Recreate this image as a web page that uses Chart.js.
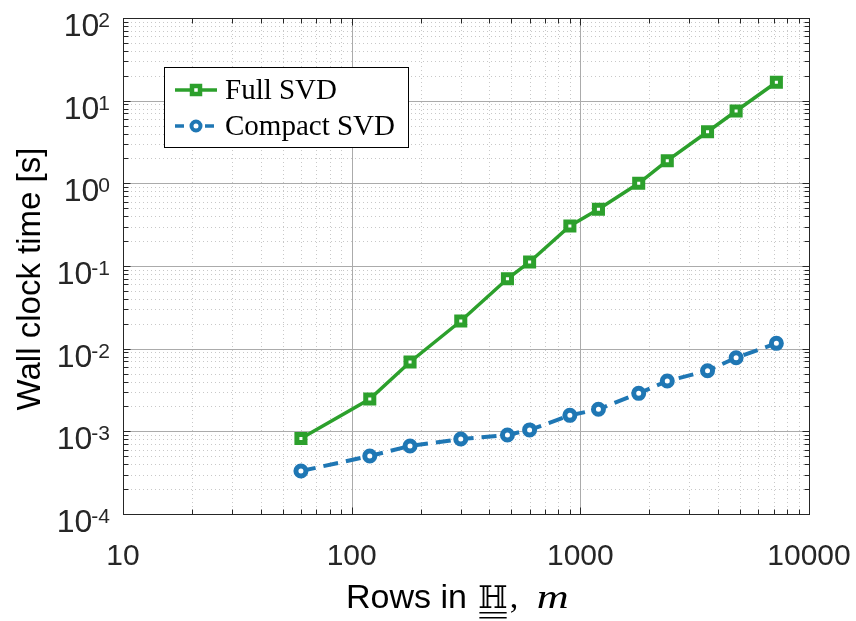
<!DOCTYPE html>
<html>
<head>
<meta charset="utf-8">
<script src="https://cdn.jsdelivr.net/npm/chart.js@4/dist/chart.umd.min.js"></script>
<style>
  html, body { margin: 0; padding: 0; background: #fff; }
  #wrap { width: 856px; height: 621px; position: relative; }
</style>
</head>
<body>
<div id="wrap"><canvas id="chart"></canvas></div>
<script>
// values
const rows = [60, 120, 180, 300, 480, 600, 900, 1200, 1800, 2400, 3600, 4800, 7200];
const fullSvd = [8.2e-4, 2.46e-3, 6.9e-3, 0.0216, 0.070, 0.112, 0.305, 0.485, 1.0, 1.88, 4.21, 7.5, 16.7];
const compactSvd = [3.31e-4, 5.03e-4, 6.65e-4, 8.07e-4, 9.03e-4, 1.04e-3, 1.56e-3, 1.85e-3, 2.88e-3, 4.06e-3, 5.41e-3, 7.78e-3, 1.16e-2];
const xDecades = [10, 100, 1000, 10000];
const yExponents = [-4, -3, -2, -1, 0, 1, 2];

const GREEN = 'rgb(44,160,44)';
const BLUE = 'rgb(31,119,180)';
const SANS = '"Liberation Sans", Arial, sans-serif';
const SERIF = '"Liberation Serif", "Times New Roman", serif';

// 2..9 x 10^k between two powers of ten
function minorValues(lo, hi) {
  const out = [];
  for (let d = lo; d < hi; d *= 10) {
    for (let k = 2; k <= 9; k++) out.push(k * d);
  }
  return out;
}

function drawMarker(ctx, style, x, y, color) {
  ctx.save();
  ctx.setLineDash([]);
  ctx.fillStyle = '#fff';
  ctx.strokeStyle = color;
  ctx.beginPath();
  if (style === 'rect') {
    ctx.lineWidth = 4.5;
    ctx.rect(x - 4, y - 4, 8, 8);
  } else {
    ctx.lineWidth = 4;
    ctx.arc(x, y, 4.5, 0, Math.PI * 2);
  }
  ctx.fill();
  ctx.stroke();
  ctx.restore();
}

const matlabLook = {
  id: 'matlabLook',
  beforeDatasetsDraw(chart) {
    const { ctx, chartArea: a, scales: { x, y } } = chart;
    ctx.save();
    ctx.lineWidth = 1;
    // minor dotted grid
    ctx.strokeStyle = '#c8c8c8';
    ctx.setLineDash([1, 3]);
    minorValues(10, 10000).forEach(v => {
      const px = Math.round(x.getPixelForValue(v)) + 0.5;
      ctx.beginPath(); ctx.moveTo(px, a.top); ctx.lineTo(px, a.bottom); ctx.stroke();
    });
    minorValues(1e-4, 100).forEach(v => {
      const py = Math.round(y.getPixelForValue(v)) + 0.5;
      ctx.beginPath(); ctx.moveTo(a.left, py); ctx.lineTo(a.right, py); ctx.stroke();
    });
    // major solid grid
    ctx.setLineDash([]);
    ctx.strokeStyle = '#ababab';
    xDecades.forEach(v => {
      const px = Math.round(x.getPixelForValue(v)) + 0.5;
      ctx.beginPath(); ctx.moveTo(px, a.top); ctx.lineTo(px, a.bottom); ctx.stroke();
    });
    yExponents.forEach(e => {
      const py = Math.round(y.getPixelForValue(Math.pow(10, e))) + 0.5;
      ctx.beginPath(); ctx.moveTo(a.left, py); ctx.lineTo(a.right, py); ctx.stroke();
    });
    ctx.restore();
  },
  afterDraw(chart) {
    const { ctx, chartArea: a, scales: { x, y } } = chart;
    ctx.save();
    const L = Math.round(a.left) + 0.5, R = Math.round(a.right) + 0.5;
    const T = Math.round(a.top) + 0.5, B = Math.round(a.bottom) + 0.5;

    // inward ticks on all four sides
    ctx.strokeStyle = '#262626';
    ctx.lineWidth = 1;
    const xt = xDecades.concat(minorValues(10, 10000));
    xt.forEach(v => {
      const px = Math.round(x.getPixelForValue(v)) + 0.5;
      const len = xDecades.includes(v) ? 7 : 5;
      ctx.beginPath();
      ctx.moveTo(px, B); ctx.lineTo(px, B - len);
      ctx.moveTo(px, T); ctx.lineTo(px, T + len);
      ctx.stroke();
    });
    const yt = yExponents.map(e => Math.pow(10, e)).concat(minorValues(1e-4, 100));
    yt.forEach((v, i) => {
      const py = Math.round(y.getPixelForValue(v)) + 0.5;
      const len = i < yExponents.length ? 7 : 5;
      ctx.beginPath();
      ctx.moveTo(L, py); ctx.lineTo(L + len, py);
      ctx.moveTo(R, py); ctx.lineTo(R - len, py);
      ctx.stroke();
    });
    ctx.strokeRect(L, T, R - L, B - T);

    // tick labels
    ctx.fillStyle = '#262626';
    ctx.textBaseline = 'alphabetic';
    ctx.font = '30px ' + SANS;
    ctx.textAlign = 'center';
    xDecades.forEach(v => {
      ctx.fillText(String(v), x.getPixelForValue(v), 565);
    });
    ctx.textAlign = 'left';
    yExponents.forEach(e => {
      const py = y.getPixelForValue(Math.pow(10, e));
      const sup = e < 0 ? '-' + Math.abs(e) : String(e);
      ctx.font = '21px ' + SANS;
      const ws = ctx.measureText(sup).width;
      ctx.fillText(sup, 110 - ws, py + 9);
      ctx.font = '32px ' + SANS;
      const wb = ctx.measureText('10').width;
      ctx.fillText('10', 110 - ws - wb + 1, py + 18);
    });

    // y axis title
    ctx.save();
    ctx.translate(40, 279);
    ctx.rotate(-Math.PI / 2);
    ctx.textAlign = 'center';
    ctx.font = '33px ' + SANS;
    ctx.fillStyle = '#000';
    ctx.fillText('Wall clock time [s]', 0, 0);
    ctx.restore();

    // x axis title: Rows in H (double underlined), m
    ctx.fillStyle = '#000';
    ctx.textAlign = 'left';
    ctx.font = '34px ' + SANS;
    let cx = 346;
    ctx.fillText('Rows in ', cx, 608);
    cx += ctx.measureText('Rows in ').width + 2;
    ctx.font = '31px "DejaVu Serif", serif';
    const hw = ctx.measureText('\u210D').width;
    ctx.fillText('\u210D', cx, 608);
    ctx.fillRect(cx + 1, 612, hw - 2, 1.5);
    ctx.fillRect(cx + 1, 617, hw - 2, 1.5);
    cx += hw;
    ctx.font = '34px ' + SERIF;
    ctx.fillText(',', cx + 2, 608);
    cx += ctx.measureText(', ').width + 12;
    ctx.save();
    ctx.translate(cx, 608);
    ctx.scale(1.3, 1);
    ctx.font = 'italic 34px ' + SERIF;
    ctx.fillText('m', 0, 0);
    ctx.restore();

    // legend
    const lx = 164.5, ly = 67.5, lw = 244, lh = 80;
    ctx.fillStyle = '#fff';
    ctx.fillRect(lx, ly, lw, lh);
    ctx.strokeStyle = '#000';
    ctx.lineWidth = 1;
    ctx.strokeRect(lx, ly, lw, lh);
    const entries = [
      { label: 'Full SVD', color: GREEN, style: 'rect', dash: [], y: 90 },
      { label: 'Compact SVD', color: BLUE, style: 'circle', dash: [9, 6], y: 126 }
    ];
    entries.forEach(en => {
      ctx.save();
      ctx.strokeStyle = en.color;
      ctx.lineWidth = 3.5;
      ctx.setLineDash(en.dash);
      ctx.beginPath();
      ctx.moveTo(175, en.y); ctx.lineTo(217, en.y);
      ctx.stroke();
      ctx.restore();
      drawMarker(ctx, en.style, 196, en.y, en.color);
      ctx.fillStyle = '#000';
      ctx.font = '29px ' + SERIF;
      ctx.textBaseline = 'middle';
      ctx.fillText(en.label, 225, en.y + 1);
    });
    ctx.restore();
  }
};

const toPoints = vals => rows.map((r, i) => ({ x: r, y: vals[i] }));

new Chart(document.getElementById('chart'), {
  type: 'line',
  data: {
    datasets: [
      {
        label: 'Full SVD',
        data: toPoints(fullSvd),
        borderColor: GREEN,
        borderWidth: 3.5,
        pointStyle: 'rect',
        pointRadius: 5.7,
        pointBorderWidth: 5,
        pointBackgroundColor: '#fff',
        pointBorderColor: GREEN,
        tension: 0
      },
      {
        label: 'Compact SVD',
        data: toPoints(compactSvd),
        borderColor: BLUE,
        borderWidth: 4,
        borderDash: [15, 8],
        pointStyle: 'circle',
        pointRadius: 5,
        pointBorderWidth: 5,
        pointBackgroundColor: '#fff',
        pointBorderColor: BLUE,
        tension: 0
      }
    ]
  },
  options: {
    responsive: true,
    maintainAspectRatio: false,
    animation: false,
    layout: { padding: { left: 123, right: 47, top: 18, bottom: 107 } },
    plugins: { legend: { display: false }, tooltip: { enabled: false } },
    scales: {
      x: {
        type: 'logarithmic', min: 10, max: 10000,
        ticks: { display: false },
        grid: { display: false, drawTicks: false },
        border: { display: false }
      },
      y: {
        type: 'logarithmic', min: 1e-4, max: 100,
        ticks: { display: false },
        grid: { display: false, drawTicks: false },
        border: { display: false }
      }
    }
  },
  plugins: [matlabLook]
});
</script>
</body>
</html>
